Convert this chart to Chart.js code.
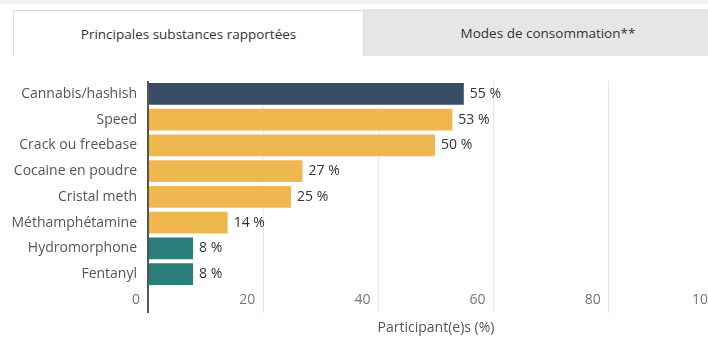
<!DOCTYPE html>
<html lang="fr">
<head>
<meta charset="utf-8">
<title>Principales substances rapportées</title>
<script src="https://cdn.jsdelivr.net/npm/chart.js@4/dist/chart.umd.min.js"></script>
<style>
    html, body { margin: 0; padding: 0; background: #fff; overflow: hidden; }
    body { width: 708px; height: 337px; position: relative; font-family: "Open Sans", sans-serif; }
    .topband { position: absolute; left: 0; top: 0; width: 708px; height: 4px; background: #f1f1f1; }
    .tab { position: absolute; box-sizing: border-box; font-size: 13.5px; color: #333;
           display: flex; align-items: center; justify-content: center; }
    .tab.active { left: 13px; top: 10px; width: 351px; height: 46px; background: #fff;
                  border: 1px solid #ddd; border-bottom: none; }
    .tab.other { left: 364px; top: 9px; width: 368px; height: 47px; background: #e6e6e6; }
    #wrap { position: absolute; left: 0; top: 75px; width: 760px; height: 262px; }
</style>
</head>
<body>
<div class="topband"></div>
<div class="tab active">Principales substances rapportées</div>
<div class="tab other">Modes de consommation**</div>
<div id="wrap"><canvas id="substancesChart"></canvas></div>

<script>
    // substances et pourcentage de participant(e)s
    var categories = ['Cannabis/hashish', 'Speed', 'Crack ou freebase', 'Cocaine en poudre',
                      'Cristal meth', 'Méthamphétamine', 'Hydromorphone', 'Fentanyl'];
    var percents = [55, 53, 50, 27, 25, 14, 8, 8];
    var barColors = ['#394d65', '#efb84f', '#efb84f', '#efb84f', '#efb84f', '#efb84f', '#2b7d7a', '#2b7d7a'];
    var xMin = 0, xMax = 100, xStep = 20;
    var xTitle = 'Participant(e)s (%)';

    // étiquette "xx %" au bout de chaque barre
    var valueLabels = {
        id: 'valueLabels',
        afterDatasetsDraw: function (chart) {
            var ctx = chart.ctx;
            var meta = chart.getDatasetMeta(0);
            ctx.save();
            ctx.font = '14px "Open Sans"';
            ctx.fillStyle = '#333';
            ctx.textAlign = 'left';
            ctx.textBaseline = 'middle';
            meta.data.forEach(function (bar, i) {
                ctx.fillText(percents[i] + ' %', bar.x + 5, bar.y);
            });
            ctx.restore();
        }
    };

    var ctx = document.getElementById('substancesChart').getContext('2d');
    new Chart(ctx, {
        type: 'bar',
        data: {
            labels: categories,
            datasets: [{
                data: percents,
                backgroundColor: barColors,
                borderColor: '#fff',
                borderWidth: 1,
                barPercentage: 0.92,
                categoryPercentage: 1
            }]
        },
        options: {
            indexAxis: 'y',
            responsive: true,
            maintainAspectRatio: false,
            animation: false,
            layout: { padding: { top: 6, right: 36, bottom: 0, left: 0 } },
            plugins: { legend: { display: false }, tooltip: { enabled: false } },
            scales: {
                y: {
                    grid: { display: false, drawTicks: false },
                    border: { display: false },
                    ticks: { color: '#555', font: { family: 'Open Sans', size: 14 }, padding: 11 },
                    afterFit: function (scale) {
                        scale.width = 148;
                        scale.paddingTop = 0;
                        scale.paddingBottom = 0;
                    }
                },
                x: {
                    min: xMin,
                    max: xMax,
                    border: { display: false },
                    grid: {
                        color: function (c) { return c.tick && c.tick.value === 0 ? '#555' : '#e6e6e6'; },
                        lineWidth: function (c) { return c.tick && c.tick.value === 0 ? 2 : 1; },
                        tickLength: 26
                    },
                    ticks: {
                        stepSize: xStep,
                        align: 'end',
                        labelOffset: -8,
                        padding: -21,
                        color: '#777',
                        font: { family: 'Open Sans', size: 14 }
                    },
                    title: {
                        display: true,
                        text: xTitle,
                        color: '#555',
                        font: { family: 'Open Sans', size: 14 },
                        padding: { top: 0, bottom: 1 }
                    },
                    afterFit: function (scale) {
                        scale.height = 50;
                        scale.paddingLeft = 0;
                        scale.paddingRight = 0;
                    }
                }
            }
        },
        plugins: [valueLabels]
    });
</script>
</body>
</html>
